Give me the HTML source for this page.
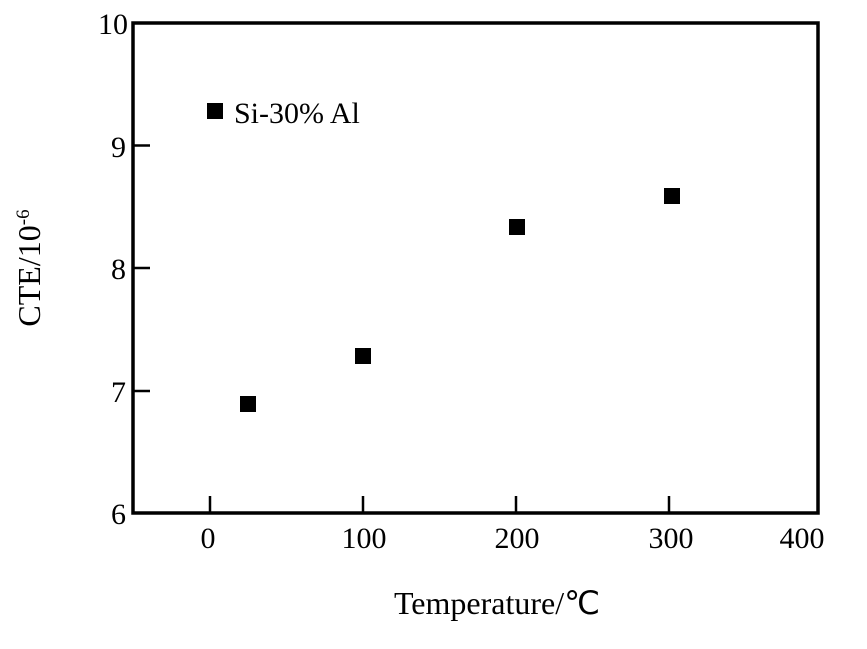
<!DOCTYPE html>
<html><head><meta charset="utf-8"><style>body{margin:0;background:#fff}</style></head><body>
<svg width="867" height="644" xmlns="http://www.w3.org/2000/svg" font-family="Liberation Serif, serif" font-size="30" fill="#000">
<rect x="133" y="23" width="685" height="490" fill="none" stroke="#000" stroke-width="3.5"/>
<g stroke="#000" stroke-width="2.5">
<line x1="133" y1="145.5" x2="150" y2="145.5"/>
<line x1="133" y1="268" x2="150" y2="268"/>
<line x1="133" y1="391" x2="150" y2="391"/>
<line x1="210" y1="513" x2="210" y2="496"/>
<line x1="363" y1="513" x2="363" y2="496"/>
<line x1="516" y1="513" x2="516" y2="496"/>
<line x1="669" y1="513" x2="669" y2="496"/>
</g>
<g text-anchor="end">
<text x="128" y="34">10</text>
<text x="126" y="157">9</text>
<text x="126" y="279">8</text>
<text x="126" y="402">7</text>
<text x="126" y="524">6</text>
</g>
<g text-anchor="middle">
<text x="208" y="548">0</text>
<text x="364" y="548">100</text>
<text x="517" y="548">200</text>
<text x="671" y="548">300</text>
<text x="802" y="548">400</text>
<text x="497" y="614" font-size="32">Temperature/℃</text>
</g>
<text transform="translate(40,268) rotate(-90)" text-anchor="middle" font-size="32">CTE/10<tspan dy="-11" font-size="19">-6</tspan></text>
<rect x="240" y="396" width="16" height="16"/>
<rect x="355" y="348" width="16" height="16"/>
<rect x="509" y="219" width="16" height="16"/>
<rect x="664" y="188" width="16" height="16"/>
<rect x="207" y="103" width="16" height="16"/>
<text x="234" y="123">Si-30% Al</text>
</svg>
</body></html>
